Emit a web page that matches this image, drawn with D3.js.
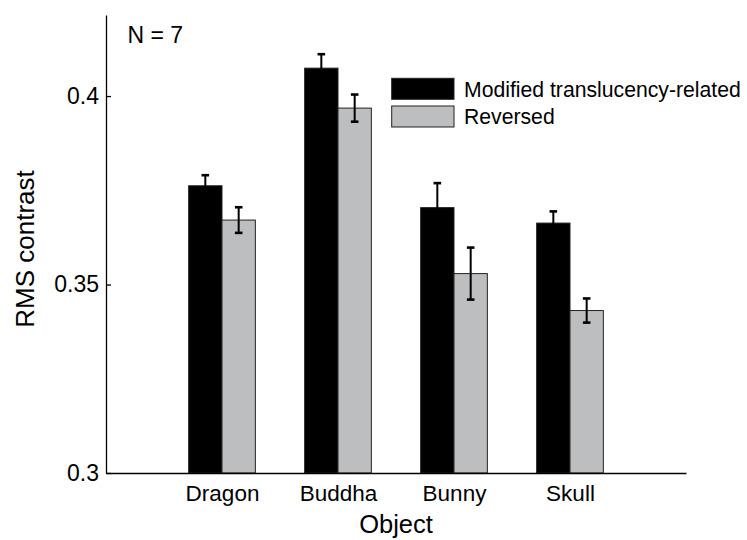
<!DOCTYPE html>
<html>
<head>
<meta charset="utf-8">
<script src="https://cdn.jsdelivr.net/npm/d3@7"></script>
<style>
  html, body { margin: 0; padding: 0; background: #fff; }
  svg { display: block; font-family: "Liberation Sans", Arial, Helvetica, sans-serif; }
</style>
</head>
<body>
<svg id="chart" width="747" height="540"></svg>
<script>
// Mean RMS contrast per object, with error bars (N = 7)
const objects = ["Dragon", "Buddha", "Bunny", "Skull"];
const seriesNames = ["Modified translucency-related", "Reversed"];
const modifiedMean = [0.3762, 0.4074, 0.3704, 0.3663];
const modifiedErr  = [0.0028, 0.0037, 0.0065, 0.0031];
const reversedMean = [0.3671, 0.3968, 0.3529, 0.3431];
const reversedErr  = [0.0034, 0.0036, 0.0069, 0.0032];
const yTicks = [0.3, 0.35, 0.4];
const yTickLabels = ["0.3", "0.35", "0.4"];
const seriesColors = ["#000000", "#bdbec0"];

const svg = d3.select("#chart");
const margin = { left: 106, right: 61, top: 15, bottom: 67 };
const W = 747, H = 540;

// x: objects sit at integer positions 1..4 within [0, 5]
const x = d3.scaleLinear().domain([0, objects.length + 1]).range([margin.left, W - margin.right]);
const y = d3.scaleLinear().domain([0.3, 0.4215]).range([H - margin.bottom, margin.top]);
const barW = 0.2875; // bar width in x units

const series = [
  { name: seriesNames[0], mean: modifiedMean, err: modifiedErr, color: seriesColors[0], off: -0.5 },
  { name: seriesNames[1], mean: reversedMean, err: reversedErr, color: seriesColors[1], off: 0.5 }
];

const bars = [];
series.forEach(s => objects.forEach((o, i) => bars.push({
  pos: i + 1 + s.off * barW, mean: s.mean[i], err: s.err[i], color: s.color
})));

// bars
svg.append("g").selectAll("rect").data(bars).join("rect")
  .attr("x", d => x(d.pos - barW / 2))
  .attr("width", d => x(d.pos + barW / 2) - x(d.pos - barW / 2))
  .attr("y", d => y(d.mean))
  .attr("height", d => y(0.3) - y(d.mean))
  .attr("fill", d => d.color)
  .attr("stroke", "#222")
  .attr("stroke-width", 1);

// error bars
const eb = svg.append("g").attr("stroke", "#000");
eb.selectAll("line.v").data(bars).join("line").attr("class", "v")
  .attr("x1", d => x(d.pos)).attr("x2", d => x(d.pos))
  .attr("y1", d => y(d.mean - d.err)).attr("y2", d => y(d.mean + d.err))
  .attr("stroke-width", 2);
["top", "bottom"].forEach(k => {
  eb.selectAll("line.c" + k).data(bars).join("line").attr("class", "c" + k)
    .attr("x1", d => x(d.pos) - 3.8).attr("x2", d => x(d.pos) + 3.8)
    .attr("y1", d => y(k === "top" ? d.mean + d.err : d.mean - d.err))
    .attr("y2", d => y(k === "top" ? d.mean + d.err : d.mean - d.err))
    .attr("stroke-width", 2.6);
});

// y axis: inward ticks
const yAxis = d3.axisLeft(y).tickValues(yTicks)
  .tickFormat((d, i) => yTickLabels[i]).tickSize(-5).tickSizeOuter(0).tickPadding(7);
const gy = svg.append("g").attr("transform", `translate(${margin.left},0)`).call(yAxis);
gy.select(".domain").attr("stroke", "#000").attr("stroke-width", 1.3);
gy.selectAll(".tick line").attr("stroke", "#000").attr("stroke-width", 1.3);
gy.selectAll(".tick text").attr("font-size", 23).attr("fill", "#000")
  .attr("font-family", "'Liberation Sans', Arial, sans-serif");

// x axis: category labels, no tick marks
const xAxis = d3.axisBottom(x).tickValues(objects.map((o, i) => i + 1))
  .tickFormat((d, i) => objects[i]).tickSize(0).tickSizeOuter(0).tickPadding(12);
const gx = svg.append("g").attr("transform", `translate(0,${y(0.3)})`).call(xAxis);
gx.select(".domain").attr("stroke", "#000").attr("stroke-width", 1.3);
gx.selectAll(".tick text").attr("font-size", 22.5).attr("fill", "#000")
  .attr("font-family", "'Liberation Sans', Arial, sans-serif");

// axis titles
svg.append("text").attr("x", (x(0) + x(objects.length + 1)) / 2).attr("y", 533)
  .attr("text-anchor", "middle").attr("font-size", 25.5).text("Object");
svg.append("text")
  .attr("transform", `translate(33.5,${249}) rotate(-90)`)
  .attr("text-anchor", "middle").attr("font-size", 26).text("RMS contrast");

// sample size note
svg.append("text").attr("x", 127.5).attr("y", 43.3).attr("font-size", 23).text("N = 7");

// legend
const legend = svg.append("g").attr("transform", "translate(391.7,78.3)");
series.forEach((s, i) => {
  const row = legend.append("g").attr("transform", `translate(0,${i * 27.7})`);
  row.append("rect").attr("width", 62.3).attr("height", 21)
    .attr("fill", s.color).attr("stroke", "#222").attr("stroke-width", 1);
  row.append("text").attr("x", 72.3).attr("y", 18.3).attr("font-size", 21.2).text(s.name);
});
</script>
</body>
</html>
